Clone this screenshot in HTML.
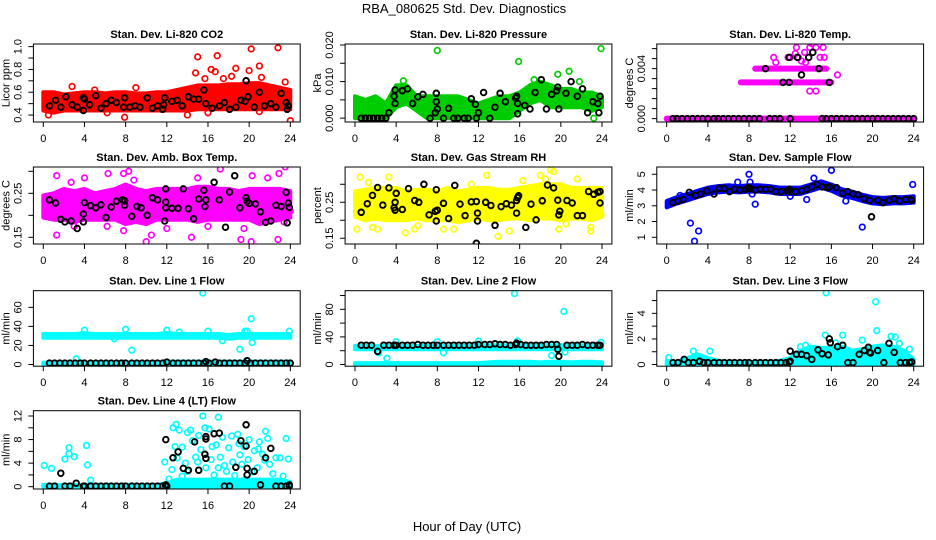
<!DOCTYPE html>
<html><head><meta charset="utf-8"><title>RBA_080625 Std. Dev. Diagnostics</title>
<style>
html,body{margin:0;padding:0;background:#fff;}
svg{display:block;font-family:"Liberation Sans",Arial,sans-serif;}
</style></head>
<body>
<svg id="chart" width="936" height="540" viewBox="0 0 936 540" xmlns="http://www.w3.org/2000/svg">
<rect x="0" y="0" width="936" height="540" fill="#fff"/>
<text x="464" y="13" font-size="13" text-anchor="middle">RBA_080625  Std. Dev. Diagnostics</text>
<text x="467" y="531" font-size="13" text-anchor="middle">Hour of Day (UTC)</text>
</svg>
<script>
// ---------- shared x data ----------
const xTicks = [0,4,8,12,16,20,24];
const hours = [0,1,2,3,4,5,6,7,8,9,10,11,12,13,14,15,16,17,18,19,20,21,22,23,24];

// ---------- Panel 1: CO2 ----------
const co2Ticks = [0.4,0.5,0.6,0.7,0.8,0.9,1.0];
const co2Labels = ["0.4","","0.6","","0.8","","1.0"];
const co2BandLo = [0.44,0.42,0.44,0.44,0.44,0.44,0.44,0.44,0.44,0.44,0.44,0.44,0.44,0.44,0.44,0.45,0.45,0.45,0.45,0.45,0.45,0.45,0.45,0.45,0.45];
const co2BandHi = [0.60,0.60,0.58,0.59,0.60,0.60,0.59,0.60,0.60,0.59,0.59,0.60,0.60,0.62,0.64,0.66,0.66,0.66,0.67,0.67,0.68,0.68,0.66,0.64,0.62];
const co2OutX = [0.5,2.8,5.0,6.2,7.9,9.0,11.5,14.0,14.8,15.0,15.7,16.0,16.3,16.7,16.9,17.5,18.3,18.7,19.7,20.0,20.2,21.0,21.2,22.8,23.5,24.0,21.0];
const co2OutY = [0.40,0.65,0.62,0.42,0.38,0.64,0.45,0.40,0.77,0.91,0.72,0.42,0.80,0.78,0.92,0.72,0.74,0.81,0.70,0.79,0.98,0.83,0.73,0.99,0.69,0.35,0.43];
const co2BlkX = [0.6,1.2,1.7,2.2,2.8,3.3,3.9,3.9,4.0,4.5,5.1,5.6,6.1,6.6,7.1,7.8,7.9,8.4,8.9,9.4,10.1,10.6,11.1,11.6,11.7,11.8,12.5,13.0,13.5,14.1,14.6,15.1,15.6,15.8,16.4,17.1,17.6,18.1,18.7,19.2,19.6,19.7,19.9,20.5,21.0,21.5,22.1,22.6,23.1,23.6,23.7,23.8];
const co2BlkY = [0.48,0.53,0.47,0.56,0.49,0.47,0.44,0.55,0.54,0.49,0.57,0.46,0.50,0.53,0.51,0.47,0.55,0.47,0.48,0.47,0.55,0.46,0.48,0.45,0.49,0.55,0.52,0.53,0.48,0.56,0.54,0.54,0.62,0.50,0.46,0.48,0.51,0.45,0.47,0.53,0.52,0.70,0.56,0.47,0.60,0.48,0.50,0.47,0.59,0.51,0.45,0.48];

// ---------- Panel 2: Pressure ----------
const presTicks = [0,0.005,0.010,0.015,0.020];
const presLabels = ["0.000","","0.010","","0.020"];
const presBandLo = [0,0,0,0,0.003,0.004,0.002,0,0,0,0,0,0,0,0,0,0.002,0.004,0.005,0.003,0.003,0.003,0.003,0.002,0.003];
const presBandHi = [0.006,0.005,0.006,0.004,0.009,0.009,0.006,0.006,0.006,0.006,0.006,0.005,0.004,0.005,0.006,0.006,0.007,0.009,0.010,0.009,0.008,0.008,0.007,0.007,0.006];
const presOutX = [8.0,15.9,23.9,19.7,20.8,21.8,23.2,0.3,1.5,4.7,17.4];
const presOutY = [0.0185,0.0155,0.0190,0.0120,0.0128,0.0100,0.000,0.003,0.002,0.0102,0.0105];
const presBlkX = [0.6,1.0,1.4,1.8,2.2,2.6,3.0,3.3,3.8,3.9,3.9,4.6,5.1,5.6,6.1,6.6,7.3,7.8,7.9,7.9,8.0,8.6,9.1,9.6,10.0,10.6,11.0,11.3,11.7,11.8,12.0,12.5,13.1,13.6,14.1,14.6,15.6,15.7,15.8,15.8,16.5,17.0,17.5,18.1,18.6,19.1,19.6,19.7,19.8,20.5,21.0,21.6,22.1,22.6,23.1,23.6,23.8,23.7];
const presBlkY = [0,0,0,0,0,0,0,0.0015,0.006,0.004,0.0077,0.0075,0.0080,0.004,0.0058,0.0065,0,0.0015,0.0045,0.0068,0.0025,0,0.0027,0,0,0,0,0.0053,0.0038,0,0.0015,0.0070,0,0.0030,0.0068,0.0045,0.0055,0.0060,0.0040,0.0012,0.0035,0.0025,0.0070,0.0105,0.0025,0.0065,0.0075,0.0085,0.0025,0.0068,0.0100,0.0060,0.0080,0.0015,0.0045,0.0040,0.0060,0.0015];

// ---------- Panel 3: Li-820 Temp ----------
const tempTicks = [0,0.0008,0.0016,0.0024,0.0032,0.004,0.0048,0.0056];
const tempLabels = ["0.000","","","","","0.004","",""];
const tempRowX0 = [0,7.2,8.6];
const tempRowX1 = [24,16.0,15.5];
const tempRowY = [0,0.0029,0.0040];
const tempOutX = [10.4,10.6,11.8,12.5,12.6,12.8,13.1,13.4,13.9,14.1,14.5,14.9,15.2,15.3,13.5,13.9,14.5,16.6,12.0,13.8];
const tempOutY = [0.0049,0.0045,0.0049,0.0052,0.0057,0.0049,0.0046,0.0053,0.0057,0.0060,0.0057,0.0049,0.0057,0.0049,0.0045,0.0022,0.0022,0.0035,0.0049,0.0049];
const tempBlkX = [0.6,1.0,1.5,2.0,2.5,3.0,3.5,4.0,4.6,5.0,5.5,6.0,6.5,7.0,7.5,8.0,8.5,9.0,10.0,10.5,11.0,12.0,15.1,15.5,16.0,16.5,17.0,17.5,18.0,18.5,19.0,19.5,20.0,20.5,21.0,21.5,22.0,22.5,23.0,23.5,24.0,9.6,11.3,11.9,11.9,12.7,13.1,13.8,14.2,14.8,15.8];
const tempBlkY = [0,0,0,0,0,0,0,0,0,0,0,0,0,0,0,0,0,0,0,0,0,0,0,0,0,0,0,0,0,0,0,0,0,0,0,0,0,0,0,0,0,0.0040,0.0029,0.0029,0.0049,0.0049,0.0035,0.0049,0.0053,0.0040,0.0029];

// ---------- Panel 4: Amb Box Temp ----------
const ambTicks = [0.15,0.20,0.25,0.30];
const ambLabels = ["0.15","","0.25",""];
const ambBandLo = [0.195,0.19,0.19,0.185,0.19,0.19,0.19,0.19,0.18,0.185,0.18,0.19,0.19,0.19,0.19,0.185,0.19,0.19,0.19,0.19,0.19,0.18,0.185,0.19,0.195];
const ambBandHi = [0.245,0.25,0.26,0.255,0.26,0.25,0.255,0.26,0.27,0.26,0.255,0.26,0.26,0.26,0.26,0.265,0.265,0.26,0.26,0.255,0.26,0.26,0.26,0.26,0.255];
const ambOutX = [1.3,1.3,2.7,4.0,6.3,7.8,8.3,8.8,10.0,10.5,14.4,15.0,17.2,19.2,20.2,20.3,21.8,22.8,22.9,23.5,3.0,6.2,7.8,12.0,16.0,19.5,23.4,24.0];
const ambOutY = [0.155,0.29,0.275,0.285,0.295,0.295,0.30,0.28,0.14,0.155,0.15,0.285,0.305,0.145,0.14,0.29,0.285,0.145,0.295,0.31,0.175,0.175,0.165,0.17,0.175,0.17,0.185,0.21];
const ambBlkX = [0.6,1.2,1.7,2.1,2.7,3.3,3.9,3.9,4.0,4.6,5.1,5.6,6.1,6.6,7.1,7.7,7.9,7.9,8.6,9.1,9.5,10.1,10.6,11.1,11.8,11.9,11.9,11.9,12.5,13.1,13.6,14.1,14.6,15.1,15.6,15.8,15.7,16.6,17.1,17.7,18.1,18.6,19.1,19.7,19.8,20.0,20.6,21.1,21.6,22.1,22.6,23.1,23.6,23.8,23.9,23.7];
const ambBlkY = [0.235,0.228,0.191,0.185,0.187,0.17,0.185,0.203,0.229,0.222,0.217,0.224,0.195,0.219,0.232,0.235,0.233,0.223,0.198,0.22,0.217,0.2,0.24,0.235,0.187,0.23,0.26,0.217,0.216,0.216,0.26,0.215,0.192,0.237,0.257,0.235,0.22,0.275,0.235,0.173,0.253,0.29,0.217,0.24,0.232,0.227,0.226,0.208,0.184,0.187,0.223,0.22,0.252,0.228,0.218,0.183];

// ---------- Panel 5: Gas Stream RH ----------
const rhTicks = [0.15,0.20,0.25,0.30];
const rhLabels = ["0.15","","0.25",""];
const rhBandLo = [0.21,0.2,0.205,0.2,0.2,0.2,0.205,0.2,0.2,0.2,0.195,0.2,0.205,0.2,0.2,0.205,0.205,0.2,0.205,0.205,0.2,0.205,0.205,0.2,0.21];
const rhBandHi = [0.28,0.285,0.29,0.29,0.29,0.28,0.285,0.285,0.28,0.29,0.28,0.285,0.29,0.29,0.285,0.285,0.29,0.295,0.3,0.3,0.3,0.29,0.29,0.29,0.29];
const rhOutX = [0.2,0.5,1.3,1.7,2.2,3.3,4.9,5.8,6.1,8.6,9.6,11.3,12.8,13.9,15.0,16.3,18.0,18.5,19.0,19.3,19.8,20.5,21.6,22.9,22.9,23.9];
const rhOutY = [0.175,0.32,0.305,0.18,0.175,0.32,0.165,0.175,0.185,0.175,0.175,0.30,0.325,0.155,0.17,0.31,0.325,0.315,0.34,0.335,0.175,0.19,0.315,0.17,0.18,0.215];
const rhBlkX = [0.6,1.2,1.7,2.2,2.7,3.3,3.8,3.9,3.9,4.0,4.6,5.2,5.8,6.2,6.7,7.2,7.8,7.9,7.9,8.0,8.6,9.1,9.7,10.2,10.7,11.3,11.8,11.9,11.9,11.8,12.7,13.2,13.6,14.2,14.7,15.2,15.7,15.8,15.9,15.7,16.6,17.1,17.6,18.2,18.7,19.3,19.7,19.8,19.9,20.6,21.1,21.6,22.1,22.7,23.2,23.6,23.8,23.8];
const rhBlkY = [0.222,0.246,0.269,0.291,0.242,0.29,0.235,0.228,0.25,0.275,0.23,0.288,0.255,0.25,0.30,0.215,0.225,0.198,0.285,0.228,0.247,0.205,0.297,0.245,0.213,0.251,0.252,0.198,0.22,0.136,0.25,0.241,0.186,0.238,0.246,0.242,0.255,0.263,0.268,0.22,0.18,0.245,0.201,0.254,0.298,0.29,0.256,0.215,0.225,0.255,0.248,0.213,0.213,0.28,0.272,0.278,0.28,0.248];

// ---------- Panel 6: Sample Flow ----------
const sfTicks = [1,2,3,4,5];
const sfLabels = ["1","2","3","4","5"];
const sfBandLo = [2.9,3.15,3.35,3.55,3.75,3.85,3.9,3.85,3.9,3.9,3.85,3.75,3.75,3.75,3.95,4.15,3.95,3.65,3.5,3.3,3.15,3.1,3.15,3.15,3.2];
const sfBandHi = [3.3,3.55,3.75,3.95,4.15,4.25,4.3,4.25,4.3,4.3,4.25,4.15,4.15,4.15,4.35,4.55,4.35,4.05,3.9,3.7,3.55,3.5,3.55,3.55,3.6];
const sfOutX = [2.3,2.7,3.1,8.0,8.1,8.6,8.3,6.9,14.3,13.6,16.0,17.4,19.0,23.9,12.0,1.3];
const sfOutY = [1.9,0.75,1.4,5.0,4.5,3.1,3.75,4.5,4.75,3.4,5.25,3.3,1.65,4.35,3.6,3.65];
const sfBlkX = [0.6,1.1,1.6,2.2,2.8,3.3,3.9,4.6,5.1,5.6,6.1,6.6,7.1,7.7,7.9,8.1,8.6,9.1,9.6,10.1,10.6,11.1,11.7,11.9,12.0,12.5,13.1,13.6,14.1,14.6,15.1,15.6,15.8,16.5,17.1,17.6,18.1,18.6,19.2,19.7,19.9,20.5,21.0,21.6,22.1,22.6,23.2,23.7,23.8];
const sfBlkY = [3.2,3.3,3.4,3.85,3.65,3.75,3.95,3.75,4.1,4.1,3.9,4.05,4.0,4.05,4.15,4.1,4.0,4.05,4.05,4.05,3.9,3.9,3.95,4.05,3.9,3.9,3.95,4.05,4.2,4.35,4.2,4.15,4.2,4.15,3.8,3.9,3.75,3.7,3.45,3.35,2.3,3.35,3.2,3.35,3.45,3.3,3.4,3.4,3.35];

// ---------- Panel 7: Line 1 Flow ----------
const l1Ticks = [0,20,40,60];
const l1Labels = ["0","20","40","60"];
const l1BandLo = [28,28,28,28,28,28,28,28,28,28,28,28,28,28,28,28,28,28,27,28,28,28,28,28,28];
const l1BandHi = [32,32,32,32,33,32,32,32,32,32,32,32,33,32,32,32,32,32,31,32,32,32,32,32,32];
const l1LowLo = [0,0,0,0,0,0,0,0,0,0,0,0,0,0,0,0,0,0,0,0,0,0,0,0,0];
const l1LowHi = [2,2,2,2,2,2,2,2,2,2,2,2,3,3,3,3,3,3,3,3,3,3,3,3,3];
const l1OutX = [3.2,4.0,6.9,8.0,8.6,12.0,13.2,15.5,16.0,17.4,19.1,19.6,19.8,20.2,20.3,23.9];
const l1OutY = [6,36,27,37,15,36,34,75,35,25,16,35,35,48,23,35];
const l1BlkX = [0.6,1.1,1.6,2.1,2.6,3.1,3.6,4.0,4.6,5.1,5.6,6.1,6.6,7.1,7.6,8.0,8.6,9.1,9.6,10.1,10.6,11.1,11.6,12.0,12.6,13.1,13.6,14.1,14.6,15.1,15.6,15.8,16.1,16.7,17.1,17.6,18.1,18.6,19.1,19.6,19.8,20.1,20.6,21.1,21.6,22.1,22.6,23.1,23.6,24.0];
const l1BlkY = [1.5,1.5,1.5,1.5,1.5,1.5,1.5,1.5,1.5,1.5,1.5,1.5,1.5,1.5,1.5,1.5,1.5,1.5,1.5,1.5,1.5,1.5,1.5,2.5,1.5,1.5,1.5,1.5,1.5,1.5,1.5,3,1.5,2.5,1.5,1.5,1.5,1.5,1.5,1.5,4,1.5,1.5,1.5,1.5,1.5,1.5,1.5,1.5,1.5];

// ---------- Panel 8: Line 2 Flow ----------
const l2Ticks = [0,20,40,60,80,100];
const l2Labels = ["0","","40","","80",""];
const l2BandLo = [22,22,22,22,22,22,22,22,22,22,22,22,22,22,22,22,22,22,22,22,22,22,22,22,22];
const l2BandHi = [27,27,27,27,27,27,27,27,27,27,27,27,28,28,28,28,28,28,28,28,28,28,28,28,28];
const l2LowLo = [0,0,0,0,0,0,0,0,0,0,0,0,0,0,0,0,0,0,0,0,0,0,0,0,0];
const l2LowHi = [2,2,2,2,2,2,2,2,2,2,2,2,2,3,4,4,4,4,3,4,4,3,4,4,3];
const l2OutX = [2.3,3.1,4.0,8.6,8.0,12.0,15.5,15.8,19.1,20.3,20.4,23.9];
const l2OutY = [17,9,33,17,33,34,103,34,13,77,18,32];
const l2BlkX = [0.6,1.1,1.6,2.2,2.8,3.3,3.8,4.0,4.6,5.1,5.6,6.1,6.6,7.1,7.6,8.0,8.6,9.1,9.6,10.1,10.6,11.1,11.6,12.0,12.6,13.1,13.6,14.1,14.6,15.1,15.6,15.7,16.1,16.6,17.1,17.6,18.1,18.6,19.1,19.6,19.7,19.8,20.6,21.1,21.6,22.1,22.6,23.1,23.6,23.8];
const l2BlkY = [28,28,28,19,28,28,28,28,28,28,28,29,28,28,28,28,28,28,28,28,28,28,28,29,29,29,30,29,29,28,29,31,29,28,28,28,28,29,29,29,22,12,28,28,28,29,28,28,28,28];

// ---------- Panel 9: Line 3 Flow ----------
const l3Ticks = [0,1,2,3,4,5];
const l3Labels = ["0","","2","","4",""];
const l3BandLo = [0,0,0,0,0,0,0,0,0,0,0,0,0,0,0,0,0,0,0,0,0,0,0,0,0];
const l3BandHi = [0.3,0.2,0.5,0.8,0.5,0.3,0.2,0.2,0.2,0.2,0.2,0.3,0.5,1.1,1.4,1.3,1.3,1.4,1.1,1.2,1.4,1.5,1.4,1.1,0.4];
const l3OutX = [0.2,2.6,4.2,15.4,15.5,17.1,19.0,20.3,20.4,21.8,22.2,22.6,23.6,13.0,13.5,16.4];
const l3OutY = [0.55,1.05,1.05,2.3,5.6,2.3,1.9,4.9,2.65,2.2,2.15,1.65,1.2,1.4,1.5,1.7];
const l3BlkX = [0.6,1.1,1.7,2.1,2.6,3.2,3.6,4.0,4.6,5.1,5.6,6.1,6.6,7.1,7.6,8.0,8.6,9.1,9.6,10.1,10.6,11.1,11.6,11.9,12.0,12.0,12.6,13.1,13.6,14.1,14.7,15.1,15.7,15.8,15.9,16.6,17.1,17.6,18.1,18.7,19.2,19.6,19.7,19.8,20.5,21.1,21.6,22.1,22.7,23.2,23.6,23.8];
const l3BlkY = [0.15,0.15,0.4,0.15,0.15,0.25,0.15,0.15,0.15,0.15,0.15,0.15,0.15,0.15,0.15,0.15,0.15,0.15,0.15,0.15,0.15,0.15,0.15,0.2,1.05,0.25,0.8,0.8,0.7,0.4,1.15,0.85,0.75,2.0,1.7,1.4,1.5,0.15,0.15,0.8,1.1,1.35,0.95,0.9,1.1,0.15,1.65,0.95,0.15,0.15,0.15,0.2];

// ---------- Panel 10: Line 4 (LT) Flow ----------
const l4Ticks = [0,2,4,6,8,10,12];
const l4Labels = ["0","","4","","8","","12"];
const l4BandLo = [0,0,0,0,0,0,0,0,0,0,0,0,0,0,0,0,0,0,0,0,0,0,0,0,0];
const l4BandHi = [0.3,0.3,0.3,0.3,0.3,0.3,0.3,0.3,0.3,0.3,0.3,0.3,0.6,1.2,1.2,1.2,1.2,1.2,1.2,1.2,1.2,1.2,1.2,1.2,0.8];
const l4OutX = [0.1,0.8,2.1,2.5,2.5,3.0,4.2,4.3,4.6,11.8,12.2,12.6,12.9,12.8,13.0,13.2,13.5,13.8,14.0,14.3,14.5,14.8,15.1,15.3,15.5,15.7,15.8,16.1,16.3,16.4,16.6,16.8,17.0,17.2,17.4,17.6,17.8,18.0,18.3,18.4,18.6,18.9,19.1,19.3,19.5,19.6,19.9,20.0,20.3,20.5,20.8,21.0,21.3,21.6,21.8,22.0,22.3,22.6,23.0,23.3,23.6,23.8,14.0,13.5,17.0,21.5,12.5,15.0,19.0,20.9];
const l4OutY = [3.6,3.1,4.7,5.6,6.6,5.1,7.0,3.7,1.1,4.2,1.3,10.0,10.6,6.8,4.9,9.6,6.7,4.0,9.2,9.6,7.8,5.0,8.7,6.3,12.0,10.0,3.2,9.8,4.6,6.8,2.0,7.1,11.8,5.0,8.4,3.6,2.6,6.6,8.6,4.2,1.9,8.9,5.4,3.8,6.8,1.2,4.6,8.0,2.5,6.1,3.2,7.6,5.5,9.4,8.2,3.8,2.2,4.9,4.9,1.8,8.2,4.7,2.6,1.8,3.2,4.5,2.9,4.2,7.3,6.4];
const l4BlkX = [0.6,1.1,2.1,2.6,3.9,4.0,4.6,5.1,5.6,6.1,6.6,7.1,7.6,8.0,8.6,9.1,9.6,10.1,10.6,11.1,11.6,11.9,12.0,17.6,18.1,22.6,23.1,23.6,23.9,1.7,3.2,11.9,11.9,12.6,13.1,13.6,14.1,14.7,15.1,15.7,15.8,15.8,15.8,16.6,17.1,18.7,19.2,19.7,19.7,19.8,19.8,20.5,21.1,21.6,22.1,23.9];
const l4BlkY = [0.1,0.1,0.1,0.1,0.1,0.1,0.1,0.1,0.1,0.1,0.1,0.1,0.1,0.1,0.1,0.1,0.1,0.1,0.1,0.1,0.1,0.1,0.1,0.1,0.1,0.1,0.1,0.1,0.1,2.3,0.6,0.3,8.0,4.9,5.9,3.1,2.8,7.6,2.8,5.5,4.8,8.1,8.5,9.0,9.1,3.3,7.8,10.5,6.9,3.1,2.0,2.6,0.3,4.9,6.5,0.3];

// ---------- layout (not data) ----------
const NS = "http://www.w3.org/2000/svg";
const svg = document.getElementById('chart');
const colTick0 = [43.3, 355, 666.7];
const rowTop = [44, 167, 290.7, 410.7];
const rowH = [78, 77, 75.5, 78.3];
const boxW = 266.8;
const xLo = -0.96, xHi = 24.96;

function mk(tag, attrs, parent){
  const e = document.createElementNS(NS, tag);
  for (const k in attrs) e.setAttribute(k, attrs[k]);
  (parent||svg).appendChild(e);
  return e;
}

const panels = [
 {key:'co2', col:0,row:0,title:'Stan. Dev. Li-820 CO2', ylab:'Licor ppm', color:'#ff0000', dom:[0.339,1.023], ticks:co2Ticks, labels:co2Labels,
  bands:[[co2BandLo,co2BandHi]], ox:co2OutX, oy:co2OutY, bx:co2BlkX, by:co2BlkY},
 {key:'pressure', col:1,row:0,title:'Stan. Dev. Li-820 Pressure', ylab:'kPa', color:'#00cd00', dom:[-0.00105,0.02027], ticks:presTicks, labels:presLabels,
  bands:[[presBandLo,presBandHi]], ox:presOutX, oy:presOutY, bx:presBlkX, by:presBlkY},
 {key:'li820-temp', col:2,row:0,title:'Stan. Dev. Li-820 Temp.', ylab:'degrees C', color:'#ff00ff', dom:[-0.00027,0.00597], ticks:tempTicks, labels:tempLabels,
  rows:true, ox:tempOutX, oy:tempOutY, bx:tempBlkX, by:tempBlkY},
 {key:'amb-box-temp', col:0,row:1,title:'Stan. Dev. Amb. Box Temp.', ylab:'degrees C', color:'#ff00ff', dom:[0.1348,0.3098], ticks:ambTicks, labels:ambLabels,
  bands:[[ambBandLo,ambBandHi]], ox:ambOutX, oy:ambOutY, bx:ambBlkX, by:ambBlkY},
 {key:'gas-stream-rh', col:1,row:1,title:'Stan. Dev. Gas Stream RH', ylab:'percent', color:'#ffff00', dom:[0.134,0.348], ticks:rhTicks, labels:rhLabels,
  bands:[[rhBandLo,rhBandHi]], ox:rhOutX, oy:rhOutY, bx:rhBlkX, by:rhBlkY},
 {key:'sample-flow', col:2,row:1,title:'Stan. Dev. Sample Flow', ylab:'ml/min', color:'#0000ff', dom:[0.575,5.46], ticks:sfTicks, labels:sfLabels,
  bands:[[sfBandLo,sfBandHi]], ox:sfOutX, oy:sfOutY, bx:sfBlkX, by:sfBlkY},
 {key:'line1-flow', col:0,row:2,title:'Stan. Dev. Line 1 Flow', ylab:'ml/min', color:'#00ffff', dom:[-1.8,77.5], ticks:l1Ticks, labels:l1Labels,
  bands:[[l1BandLo,l1BandHi],[l1LowLo,l1LowHi]], ox:l1OutX, oy:l1OutY, bx:l1BlkX, by:l1BlkY},
 {key:'line2-flow', col:1,row:2,title:'Stan. Dev. Line 2 Flow', ylab:'ml/min', color:'#00ffff', dom:[-2.5,107], ticks:l2Ticks, labels:l2Labels,
  bands:[[l2BandLo,l2BandHi],[l2LowLo,l2LowHi]], ox:l2OutX, oy:l2OutY, bx:l2BlkX, by:l2BlkY},
 {key:'line3-flow', col:2,row:2,title:'Stan. Dev. Line 3 Flow', ylab:'ml/min', color:'#00ffff', dom:[-0.13,5.77], ticks:l3Ticks, labels:l3Labels,
  bands:[[l3BandLo,l3BandHi]], ox:l3OutX, oy:l3OutY, bx:l3BlkX, by:l3BlkY},
 {key:'line4-flow', col:0,row:3,title:'Stan. Dev. Line 4 (LT) Flow', ylab:'ml/min', color:'#00ffff', dom:[-0.39,12.9], ticks:l4Ticks, labels:l4Labels,
  bands:[[l4BandLo,l4BandHi]], ox:l4OutX, oy:l4OutY, bx:l4BlkX, by:l4BlkY}
];

panels.forEach(p => {
  const left = colTick0[p.col] - 9.9;
  const top = rowTop[p.row], h = rowH[p.row], bottom = top + h;
  const xs = v => left + (v - xLo) / (xHi - xLo) * boxW;
  const ys = v => bottom - (v - p.dom[0]) / (p.dom[1] - p.dom[0]) * h;

  const g = mk('g', {});
  
  
  const clipId = 'clip-' + p.key;
  const cp = mk('clipPath', {id: clipId}, g);
  mk('rect', {x:left, y:top, width:boxW, height:h}, cp);
  const plot = mk('g', {'clip-path': 'url(#' + clipId + ')'}, g);
  
  

  (p.bands || []).forEach((b) => {
    const lo = b[0], hi = b[1];
    let pts = [];
    hours.forEach((hr, i) => pts.push(xs(hr).toFixed(1) + ',' + ys(hi[i]).toFixed(1)));
    for (let i = hours.length - 1; i >= 0; i--) pts.push(xs(hours[i]).toFixed(1) + ',' + ys(lo[i]).toFixed(1));
    const poly = mk('polygon', {points: pts.join(' '), fill: p.color, stroke: p.color, 'stroke-width': 4, 'stroke-linejoin': 'round'}, plot);
    
    
  });
  if (p.rows) {
    tempRowY.forEach((yv, i) => {
      const ln = mk('line', {x1: xs(tempRowX0[i]), x2: xs(tempRowX1[i]), y1: ys(yv), y2: ys(yv), stroke: p.color, 'stroke-width': 6, 'stroke-linecap': 'round'}, plot);
      
      
    });
  }
  p.ox.forEach((xv, i) => {
    const c = mk('circle', {cx: xs(xv).toFixed(1), cy: ys(p.oy[i]).toFixed(1), r: 2.8, fill: 'none', stroke: p.color, 'stroke-width': 1.7}, plot);
    
    
  });
  p.bx.forEach((xv, i) => {
    const c = mk('circle', {cx: xs(xv).toFixed(1), cy: ys(p.by[i]).toFixed(1), r: 2.8, fill: 'none', stroke: '#000', 'stroke-width': 1.9}, plot);
    
    
  });

  const box = mk('rect', {x: left, y: top, width: boxW, height: h, fill: 'none', stroke: '#000', 'stroke-width': 1}, g);
  
  

  xTicks.forEach(t => {
    const x = xs(t);
    mk('line', {x1: x, x2: x, y1: bottom, y2: bottom + 5, stroke: '#000', 'stroke-width': 1}, g);
    const tx = mk('text', {x: x, y: bottom + 20, 'font-size': 11, 'text-anchor': 'middle'}, g);
    tx.textContent = t;
    
    
  });
  p.ticks.forEach((t, i) => {
    const y = ys(t);
    mk('line', {x1: left - 5, x2: left, y1: y, y2: y, stroke: '#000', 'stroke-width': 1}, g);
    if (p.labels[i]) {
      const tx = mk('text', {x: left - 12, y: y, 'font-size': 11, 'text-anchor': 'middle', transform: 'rotate(-90 ' + (left - 12) + ' ' + y + ')'}, g);
      tx.textContent = p.labels[i];
      
      
    }
  });
  const cy = top + h / 2, yx = left - 24;
  const yl = mk('text', {x: yx, y: cy, 'font-size': 11, 'text-anchor': 'middle', transform: 'rotate(-90 ' + yx + ' ' + cy + ')'}, g);
  yl.textContent = p.ylab;
  
  
  const tt = mk('text', {x: left + boxW / 2, y: top - 6, 'font-size': 11, 'font-weight': 'bold', 'text-anchor': 'middle'}, g);
  tt.textContent = p.title;
  
  
});
</script>
</body></html>
